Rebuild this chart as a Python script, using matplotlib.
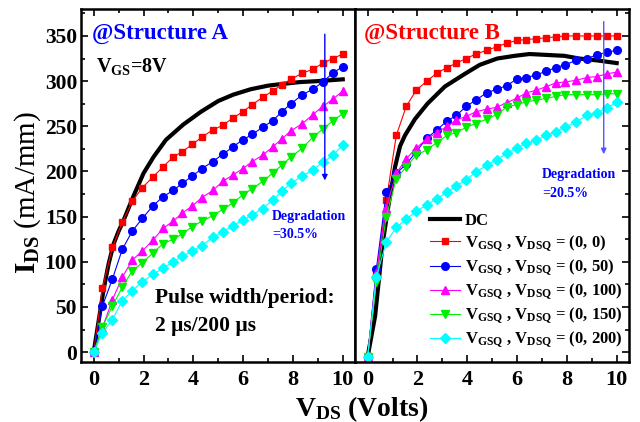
import matplotlib
matplotlib.use("Agg")
import matplotlib.pyplot as plt
from matplotlib.ticker import MultipleLocator

plt.rcParams['font.family'] = 'Liberation Serif'
plt.rcParams['font.weight'] = 'bold'
plt.rcParams['mathtext.fontset'] = 'custom'
plt.rcParams['mathtext.rm'] = 'Liberation Serif:bold'
plt.rcParams['mathtext.it'] = 'Liberation Serif:bold'
plt.rcParams['mathtext.bf'] = 'Liberation Serif:bold'
plt.rcParams['mathtext.default'] = 'bf'

# pulsed IV sweep points (V_DS)
v_pulse = [0, 0.35, 0.75, 1.15, 1.55, 1.95, 2.38, 2.78, 3.19, 3.56, 3.96, 4.34, 4.78,
           5.18, 5.58, 5.98, 6.37, 6.78, 7.18, 7.55, 7.92, 8.38, 8.8, 9.2, 9.6, 10.0]

# Structure A
dc_a_v = [0, 0.2, 0.4, 0.6, 0.8, 1.0, 1.2, 1.6, 2.0, 2.4, 2.9, 3.6, 4.3, 5.0, 5.6, 6.3, 7.0, 7.6, 8.3, 9.0, 10.0]
dc_a = [0, 35, 70, 98, 120, 134, 146, 173, 198, 216, 235, 252, 266, 278, 285, 291, 295, 297, 299, 300, 302]
a_0 = [0, 71, 116, 144, 167, 182, 194, 205, 216, 222, 230, 238, 246, 251, 259, 266, 274, 282, 289, 296, 302, 309, 313, 320, 325, 330]
a_50 = [0, 51, 81, 114, 134, 148, 162, 172, 179, 187, 195, 203, 211, 219, 227, 235, 241, 249, 256, 266, 275, 285, 291, 299, 309, 316]
a_100 = [0, 27, 58, 83, 102, 112, 124, 137, 145, 154, 162, 171, 179, 189, 196, 203, 211, 218, 227, 236, 245, 253, 263, 272, 280, 289]
a_150 = [0, 28, 51, 72, 90, 99, 110, 120, 125, 131, 139, 145, 151, 158, 165, 174, 181, 189, 198, 207, 216, 226, 238, 247, 256, 264]
a_200 = [0, 21, 36, 57, 68, 78, 86, 93, 100, 106, 112, 118, 127, 133, 140, 146, 152, 159, 168, 178, 187, 195, 202, 210, 218, 229]

# Structure B
dc_b_v = [0, 0.3, 0.6, 0.85, 1.1, 1.3, 1.5, 1.9, 2.4, 3.1, 3.9, 4.5, 5.2, 5.9, 6.5, 7.2, 7.9, 8.5, 9.2, 10.0]
dc_b = [-5, 40, 120, 165, 205, 228, 240, 258, 275, 294, 308, 318, 325, 328, 330, 329, 328, 325, 323, 320]
b_0 = [-5, 85, 168, 240, 272, 290, 300, 309, 315, 320, 325, 330, 334, 338, 342, 345, 346, 347, 348, 349, 350, 350, 350, 350, 350, 350]
b_50 = [-5, 92, 177, 198, 208, 222, 237, 246, 256, 262, 272, 279, 287, 291, 295, 302, 304, 307, 311, 315, 318, 323, 325, 329, 332, 334]
b_100 = [-5, 88, 160, 198, 214, 226, 236, 243, 250, 257, 261, 266, 269, 271, 276, 281, 287, 290, 294, 298, 299, 301, 304, 305, 308, 310]
b_150 = [-5, 78, 150, 192, 205, 218, 224, 232, 240, 243, 249, 253, 258, 263, 271, 274, 277, 279, 281, 283, 285, 285, 285, 285, 286, 286]
b_200 = [-5, 83, 122, 138, 147, 156, 163, 170, 177, 184, 191, 199, 207, 213, 220, 226, 231, 235, 240, 244, 249, 255, 262, 265, 270, 277]

bias_labels = [r'$V_{GSQ}$ , $V_{DSQ}$ = (0, 0)',
               r'$V_{GSQ}$ , $V_{DSQ}$ = (0, 50)',
               r'$V_{GSQ}$ , $V_{DSQ}$ = (0, 100)',
               r'$V_{GSQ}$ , $V_{DSQ}$ = (0, 150)',
               r'$V_{GSQ}$ , $V_{DSQ}$ = (0, 200)']
colors = ['#ff0000', '#0000ff', '#ff00ff', '#00ee00', '#00ffff']
markers = ['s', 'o', '^', 'v', 'D']
msizes = [5, 5.5, 6, 6, 5]

fig, (axA, axB) = plt.subplots(1, 2, figsize=(6.4, 4.22), dpi=100, sharey=True)
fig.subplots_adjust(left=0.127, right=0.983, top=0.979, bottom=0.142, wspace=0)

axA.plot(dc_a_v, dc_a, color='black', lw=3, label='DC')
for ys, c, m, s, lab in zip([a_0, a_50, a_100, a_150, a_200], colors, markers, msizes, bias_labels):
    axA.plot(v_pulse, ys, color=c, marker=m, ms=s, lw=0.8, label=lab)

axB.plot(dc_b_v, dc_b, color='black', lw=3, label='DC')
for ys, c, m, s, lab in zip([b_0, b_50, b_100, b_150, b_200], colors, markers, msizes, bias_labels):
    axB.plot(v_pulse, ys, color=c, marker=m, ms=s, lw=0.8, label=lab)

for ax in (axA, axB):
    ax.set_xlim(-0.5, 10.5)
    ax.set_ylim(-11, 380)
    ax.xaxis.set_major_locator(MultipleLocator(2))
    ax.xaxis.set_minor_locator(MultipleLocator(1))
    ax.yaxis.set_major_locator(MultipleLocator(50))
    ax.yaxis.set_minor_locator(MultipleLocator(25))
    ax.tick_params(which='both', direction='in', top=True, width=1.2, labelsize=16)
    ax.tick_params(which='major', length=5)
    ax.tick_params(which='minor', length=3)
    ax.tick_params(axis='x', pad=6)
    for sp in ax.spines.values():
        sp.set_linewidth(1.8)

axA.tick_params(which='both', left=True, right=False)
axA.tick_params(axis='y', labelsize=15.5, pad=3)
axB.tick_params(which='both', left=False, right=True, labelleft=False)

axA.set_ylabel(r'$I_{DS}$ (mA/mm)', fontsize=21)
axA.yaxis.set_label_coords(-0.14, 0.48)
fig.text(0.565, 0.015, r'$V_{DS}$ (Volts)', ha='center', fontsize=20)

axA.text(-0.05, 353, '@Structure A', color='blue', fontsize=16.5, va='center')
axA.text(0.08, 316, r'$V_{GS}$=8V', color='black', fontsize=14.5, va='center')
axA.text(2.45, 60, 'Pulse width/period:', fontsize=15.5, va='center')
axA.text(2.45, 29, '2 µs/200 µs', fontsize=15.5, va='center')
axA.text(7.15, 150, 'Degradation', color='blue', fontsize=10, va='center')
axA.text(7.15, 130, '=30.5%', color='blue', fontsize=10, va='center')
axA.annotate('', xy=(9.28, 187), xytext=(9.28, 355),
             arrowprops=dict(arrowstyle='-|>', color='blue', lw=1, mutation_scale=8))

axB.text(-0.16, 353, '@Structure B', color='red', fontsize=16.5, va='center')
axB.text(7.0, 197, 'Degradation', color='blue', fontsize=10, va='center')
axB.text(7.0, 176, '=20.5%', color='blue', fontsize=10, va='center')
axB.annotate('', xy=(9.48, 216), xytext=(9.48, 369),
             arrowprops=dict(arrowstyle='-|>', color='#5555ff', lw=1, mutation_scale=8))

axB.legend(loc='lower right', bbox_to_anchor=(1.02, 0.0), frameon=False, fontsize=12,
           handlelength=1.8, handletextpad=0.3, labelspacing=0.25, borderaxespad=0.3)

fig.savefig('out.png', dpi=100)
